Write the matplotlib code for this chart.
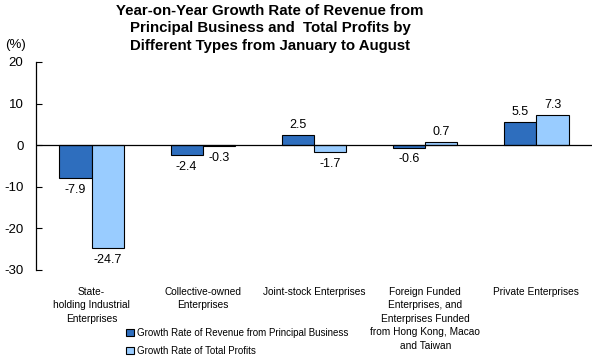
import matplotlib.pyplot as plt
import numpy as np

categories = ["State-\nholding Industrial\nEnterprises",
              "Collective-owned\nEnterprises",
              "Joint-stock Enterprises",
              "Foreign Funded\nEnterprises, and\nEnterprises Funded\nfrom Hong Kong, Macao\nand Taiwan",
              "Private Enterprises"]
revenue = [-7.9, -2.4, 2.5, -0.6, 5.5]
profits = [-24.7, -0.3, -1.7, 0.7, 7.3]
series_names = ["Growth Rate of Revenue from Principal Business",
                "Growth Rate of Total Profits"]

plt.rcParams['font.family'] = ['Liberation Sans', 'DejaVu Sans']
plt.rcParams['axes.unicode_minus'] = False

fig = plt.figure(figsize=(5.92, 3.59), dpi=100)
ax = fig.add_axes([36 / 592, 1 - 270 / 359, 556 / 592, 208 / 359])

x = np.arange(len(categories))
w = 0.29
b1 = ax.bar(x - w / 2, revenue, w, color='#2e6ebe', edgecolor='black', linewidth=0.8,
            label=series_names[0])
b2 = ax.bar(x + w / 2, profits, w, color='#99ccff', edgecolor='black', linewidth=0.8,
            label=series_names[1])

for bars, vals in [(b1, revenue), (b2, profits)]:
    for bar, v in zip(bars, vals):
        cx = bar.get_x() + bar.get_width() / 2
        if v >= 0:
            ax.annotate(f"{v}", (cx, v), xytext=(0, 3), textcoords='offset points',
                        ha='center', va='bottom', fontsize=9)
        else:
            ax.annotate(f"{v}", (cx, v), xytext=(0, -4), textcoords='offset points',
                        ha='center', va='top', fontsize=9)

ax.set_xlim(-0.5, len(categories) - 0.5)
ax.set_ylim(-30, 20)
ax.set_yticks([20, 10, 0, -10, -20, -30])
ax.tick_params(axis='y', direction='in', length=4, labelsize=9.5, pad=9)
ax.axhline(0, color='black', linewidth=0.9)
for s in ['top', 'right', 'bottom']:
    ax.spines[s].set_visible(False)
ax.spines['left'].set_linewidth(0.9)

ax.set_xticks(x)
ax.set_xticklabels(categories, fontsize=7.3, va='top', linespacing=1.45)
ax.tick_params(axis='x', length=0, pad=12)

fig.text(5 / 592, 1 - 45 / 359, "(%)", fontsize=9.5, ha='left', va='center')
fig.text(270 / 592, 1 - 4 / 359,
         "Year-on-Year Growth Rate of Revenue from\nPrincipal Business and  Total Profits by\nDifferent Types from January to August",
         fontsize=10.8, fontweight='bold',
         ha='center', va='top', linespacing=1.3)

fig.legend(loc='upper left', bbox_to_anchor=(126 / 592, 1 - 328 / 359), frameon=False,
           fontsize=7, handlelength=0.8, handleheight=0.8, handletextpad=0.3,
           labelspacing=0.8, borderaxespad=0, borderpad=0)

plt.savefig('out.png', dpi=100)
